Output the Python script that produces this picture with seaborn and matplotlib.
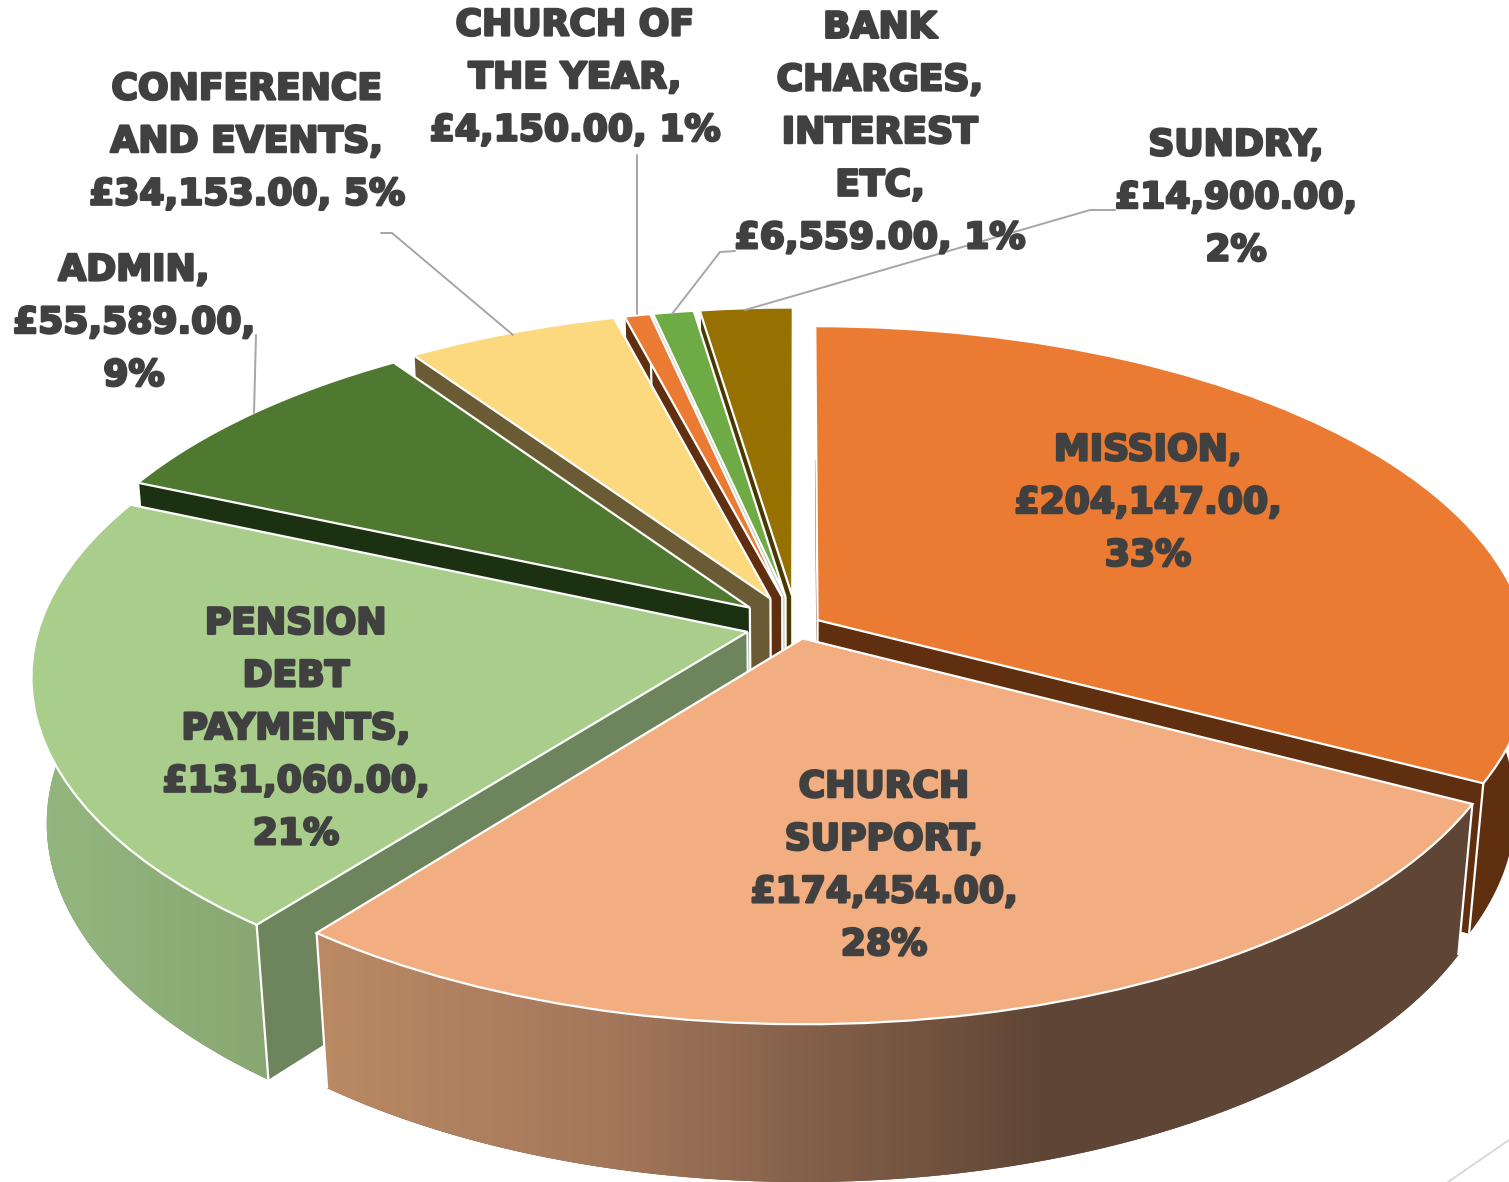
import numpy as np
import matplotlib
matplotlib.use("Agg")
import matplotlib.pyplot as plt
import seaborn as sns
import matplotlib.patheffects as pe
from matplotlib.patches import Polygon
from matplotlib.transforms import Transform
from matplotlib.colors import LinearSegmentedColormap

# ---- data -------------------------------------------------------------
categories = ["MISSION", "CHURCH SUPPORT", "PENSION DEBT PAYMENTS", "ADMIN",
              "CONFERENCE AND EVENTS", "CHURCH OF THE YEAR",
              "BANK CHARGES, INTEREST ETC", "SUNDRY"]
values = [204147, 174454, 131060, 55589, 34153, 4150, 6559, 14900]
name_lines = ["MISSION,", "CHURCH\nSUPPORT,", "PENSION\nDEBT\nPAYMENTS,", "ADMIN,",
              "CONFERENCE\nAND EVENTS,", "CHURCH OF\nTHE YEAR,",
              "BANK\nCHARGES,\nINTEREST\nETC,", "SUNDRY,"]
pct_joiners = ["\n", "\n", "\n", "\n", " ", " ", " ", "\n"]

# ---- style ------------------------------------------------------------
top_colors = ["#EB7B32", "#F2AD80", "#A9CE8C", "#4F7831", "#FCD87E", "#EB7B32", "#6FAB45", "#967000"]
cut_colors = ["#5F2F10", "#5E4535", "#6D845C", "#1B3112", "#6B5B35", "#5F2F10", "#B9C4B0", "#4B3800"]
explode = [0.034, 0.038, 0.072, 0.087, 0.091, 0.09, 0.09, 0.09]
label_xy = [(1148, 503), (884, 866), (296, 729), (134, 323), (247, 142), (575, 78), (880, 133), (1236, 198)]
draw_order = [7, 6, 5, 4, 3, 0, 2, 1]
cx, cy, a, b, c, kx, k, m = 797.0, 626.0, 708.0, 333.0, 148.0, 0.125, 0.128, 0.02

sns.set_theme(style="white")
plt.rcParams['font.family'] = ['DejaVu Sans']


def project(x, y, z=0.0):
    x, y = np.asarray(x, float), np.asarray(y, float)
    return cx + a * x / (1 + kx * y + m * z), cy + (-b * y + c * z) / (1 + k * y + m * z)


class Perspective(Transform):
    input_dims = output_dims = 2
    has_inverse = False

    def transform_non_affine(self, xy):
        u, v = project(xy[:, 0], xy[:, 1])
        return np.column_stack([u, v])


fig = plt.figure(figsize=(15.09, 11.82), dpi=100)
ax = fig.add_axes([0, 0, 1, 1])
wedges, _ = ax.pie(values, explode=explode, startangle=90, counterclock=False,
                   colors=top_colors, wedgeprops=dict(edgecolor="white", linewidth=1.6))
ax.set_aspect("auto")
plane = Perspective() + ax.transData

church_cmap = LinearSegmentedColormap.from_list("church", [(0, "#BC8B65"), (0.25, "#A5785B"), (0.625, "#5E4535"), (1, "#5E4535")])
pension_cmap = LinearSegmentedColormap.from_list("pension", ["#94B780", "#87A570"])
gradients = {1: (church_cmap, 300, 1500), 2: (pension_cmap, 30, 300)}

for rank, i in enumerate(draw_order):
    w = wedges[i]
    w.set_transform(plane)
    base = 10 * (rank + 1)
    w.set_zorder(base + 3)
    x0, y0 = w.center
    t = np.radians(np.linspace(w.theta1, w.theta2, 160))
    xs, ys = x0 + w.r * np.cos(t), y0 + w.r * np.sin(t)
    # radial cut faces
    for xe, ye in ((xs[0], ys[0]), (xs[-1], ys[-1])):
        p = [project(x0, y0), project(xe, ye), project(xe, ye, 1), project(x0, y0, 1)]
        ax.add_patch(Polygon(np.array(p, float), closed=True, fc=cut_colors[i], ec="none", zorder=base))
    # outer rim
    ut, vt = project(xs, ys)
    ub, vb = project(xs, ys, 1)
    rim = np.column_stack([np.r_[ut, ub[::-1]], np.r_[vt, vb[::-1]]])
    patch = Polygon(rim, closed=True, fc=cut_colors[i], ec="none", zorder=base + 1)
    ax.add_patch(patch)
    if i in gradients:
        cmap, g0, g1 = gradients[i]
        im = ax.imshow(np.linspace(0, 1, 256)[None, :], cmap=cmap, extent=(g0, g1, 1300, 400),
                       aspect="auto", zorder=base + 1.5)
        im.set_clip_path(patch)
    # white seams
    for xe, ye in ((xs[0], ys[0]), (xs[-1], ys[-1]), (x0, y0)):
        u0, v0 = project(xe, ye)
        u1, v1 = project(xe, ye, 1)
        ax.plot([u0, u1], [v0, v1], color="white", lw=1.6, zorder=base + 2, solid_capstyle="butt")

# leader lines
leaders = [[(381, 233), (392, 233), (513, 335)], [(637, 155), (637, 314)],
           [(735, 251), (720, 252), (672, 314)], [(1115, 210), (1090, 210), (745, 310)],
           [(256, 335), (254, 413)]]
for ln in leaders:
    ax.plot(*zip(*ln), color="#A6A6A6", lw=1.4, zorder=200)
ax.plot([1448, 1509], [1182, 1140], color="#D9D9D9", lw=1.4, zorder=200)

# labels
total = sum(values)
for name, val, join, (tx, ty) in zip(name_lines, values, pct_joiners, label_xy):
    s = f"{name}\n£{val:,.2f},{join}{val / total * 100:.0f}%"
    ax.text(tx, ty, s, ha="center", va="center", ma="center", fontsize=26, fontweight="bold",
            color="#404040", linespacing=1.69, zorder=300,
            path_effects=[pe.withStroke(linewidth=1.8, foreground="#404040")])

ax.set_xlim(0, 1509)
ax.set_ylim(1182, 0)
ax.axis("off")
fig.savefig("out.png", dpi=100, facecolor="white")
